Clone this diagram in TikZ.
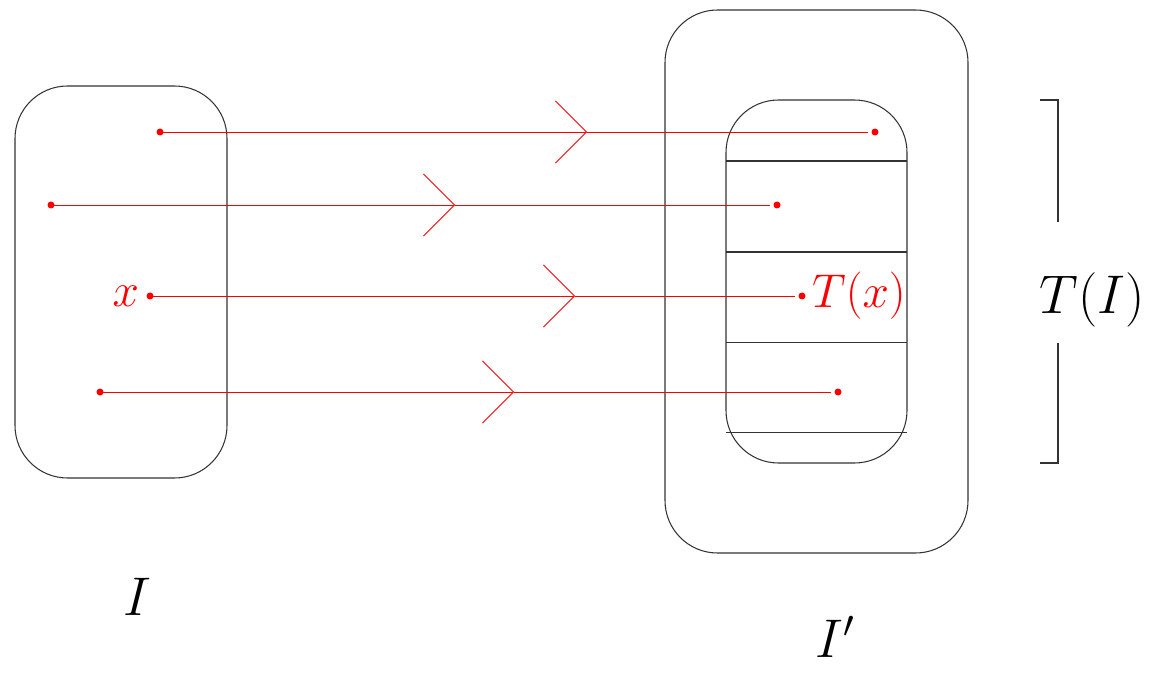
\RequirePackage{fix-cm}
\documentclass[tikz,border=0pt]{standalone}
\usepackage{tikz}
\usetikzlibrary{arrows.meta,positioning,calc}

\begin{document}
\begin{tikzpicture}[
    region/.style={draw=black!80, line width=0.6pt, rounded corners=1.05cm},
    cut/.style={draw=black!80, line width=0.6pt},
    dot/.style={circle, fill=red, inner sep=0pt, minimum size=0.14cm},
    map/.style={red, line width=0.5pt, -{Straight Barb[length=0.62cm, width=1.24cm]}},
    link/.style={red, line width=0.5pt, shorten >=0.14cm},
    bigl/.style={font=\fontsize{31}{36}\selectfont},
    smalll/.style={font=\fontsize{27}{32}\selectfont, text=red}
]
\useasboundingbox (0,0) rectangle (23.06,13.5);

% Interval I
\draw[region] (0.3,3.94) rectangle (4.54,11.78);
\node[bigl] (lI) at (2.74,1.56) {$I$};

% Image I'
\draw[region] (13.3,2.44) rectangle (19.36,13.3);
\draw[region] (14.52,4.24) rectangle (18.14,11.5);
\foreach \y in {10.28,8.46,6.646,4.846}
    \draw[cut] (14.52,\y) -- (18.14,\y);
\node[bigl, inner sep=0pt, anchor=south] (lIp) at (16.7,0.35) {$I'$};

% Points and their images
\node[dot] (a1) at (3.2,10.86) {};
\node[dot] (b1) at (17.5,10.86) {};
\node[dot] (a2) at (1.02,9.4) {};
\node[dot] (b2) at (15.54,9.4) {};
\node[dot] (a3) at (3.0,7.58) {};
\node[dot] (b3) at (16.04,7.58) {};
\node[dot] (a4) at (2.0,5.66) {};
\node[dot] (b4) at (16.76,5.66) {};

\coordinate (m1) at (11.74,10.86);
\coordinate (m2) at (9.1,9.4);
\coordinate (m3) at (11.5,7.58);
\coordinate (m4) at (10.28,5.66);

\node[smalll, left=0.02cm of a3] (lx) {$x$};
\node[smalll, right=0cm of b3] (lTx) {$T(x)$};

% Map T
\foreach \i in {1,...,4} {
    \draw[map] (a\i.center) -- (m\i);
    \draw[link] (m\i) -- (b\i.center);
}

% Bracket T(I)
\node[bigl] (lTI) at (21.84,7.5) {$T(I)$};
\draw[cut] (20.8,11.5) -- (21.16,11.5) -- (21.16,9.06);
\draw[cut] (21.16,6.64) -- (21.16,4.24) -- (20.8,4.24);

\end{tikzpicture}
\end{document}
